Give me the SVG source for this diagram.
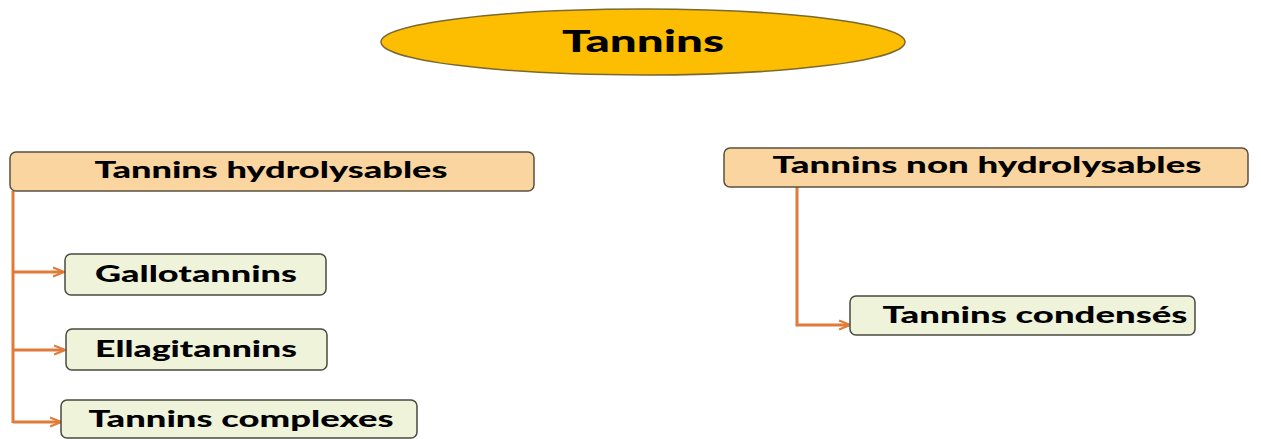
<svg xmlns="http://www.w3.org/2000/svg" width="1261" height="439" viewBox="0 0 1261 439">
<defs>
<style>
.t{font-family:Lato,"Open Sans","Liberation Sans",sans-serif;font-weight:900;fill:#000;text-anchor:middle}
.cat{fill:#fbd59f;stroke:#5a5040;stroke-width:1.5}
.sub{fill:#eef3da;stroke:#4a4a40;stroke-width:1.5}
.c{fill:none;stroke:#e07b39;stroke-width:3}
</style>
<marker id="ah" viewBox="0 0 10 10" refX="9" refY="5" markerWidth="11" markerHeight="11" markerUnits="userSpaceOnUse" orient="auto" overflow="visible">
<path d="M0,1 L10,5 L0,9" fill="none" stroke="#e07b39" stroke-width="2"/>
</marker>
</defs>
<rect width="1261" height="439" fill="#fff"/>
<g id="connectors">
<path class="c" d="M13,191 V423"/>
<path class="c" d="M13,272 H63" marker-end="url(#ah)"/>
<path class="c" d="M13,350 H64" marker-end="url(#ah)"/>
<path class="c" d="M13,422 H60" marker-end="url(#ah)"/>
<path class="c" d="M797,187 V325 H849" marker-end="url(#ah)"/>
</g>
<g id="tannins">
<ellipse cx="643" cy="42" rx="262" ry="33" fill="#fdbd00" stroke="#7a6a30" stroke-width="1.5"/>
<text class="t" x="643" y="52" font-size="31" textLength="162" lengthAdjust="spacingAndGlyphs">Tannins</text>
</g>
<g id="hydrolysables">
<rect class="cat" x="10" y="152" width="524" height="39" rx="6"/>
<text class="t" x="271" y="178" font-size="22" textLength="353" lengthAdjust="spacingAndGlyphs">Tannins hydrolysables</text>
</g>
<g id="non-hydrolysables">
<rect class="cat" x="724" y="148" width="524" height="39" rx="6"/>
<text class="t" x="987" y="173" font-size="22" textLength="429" lengthAdjust="spacingAndGlyphs">Tannins non hydrolysables</text>
</g>
<g id="gallotannins">
<rect class="sub" x="65" y="254" width="261" height="41" rx="6"/>
<text class="t" x="196" y="282" font-size="22" textLength="202" lengthAdjust="spacingAndGlyphs">Gallotannins</text>
</g>
<g id="ellagitannins">
<rect class="sub" x="66" y="329" width="261" height="41" rx="6"/>
<text class="t" x="196" y="357" font-size="22" textLength="202" lengthAdjust="spacingAndGlyphs">Ellagitannins</text>
</g>
<g id="complexes">
<rect class="sub" x="61" y="400" width="356" height="38" rx="6"/>
<text class="t" x="241" y="427" font-size="22" textLength="305" lengthAdjust="spacingAndGlyphs">Tannins complexes</text>
</g>
<g id="condenses">
<rect class="sub" x="850" y="296" width="345" height="39" rx="6"/>
<text class="t" x="1035" y="323" font-size="22" textLength="305" lengthAdjust="spacingAndGlyphs">Tannins condensés</text>
</g>
</svg>
